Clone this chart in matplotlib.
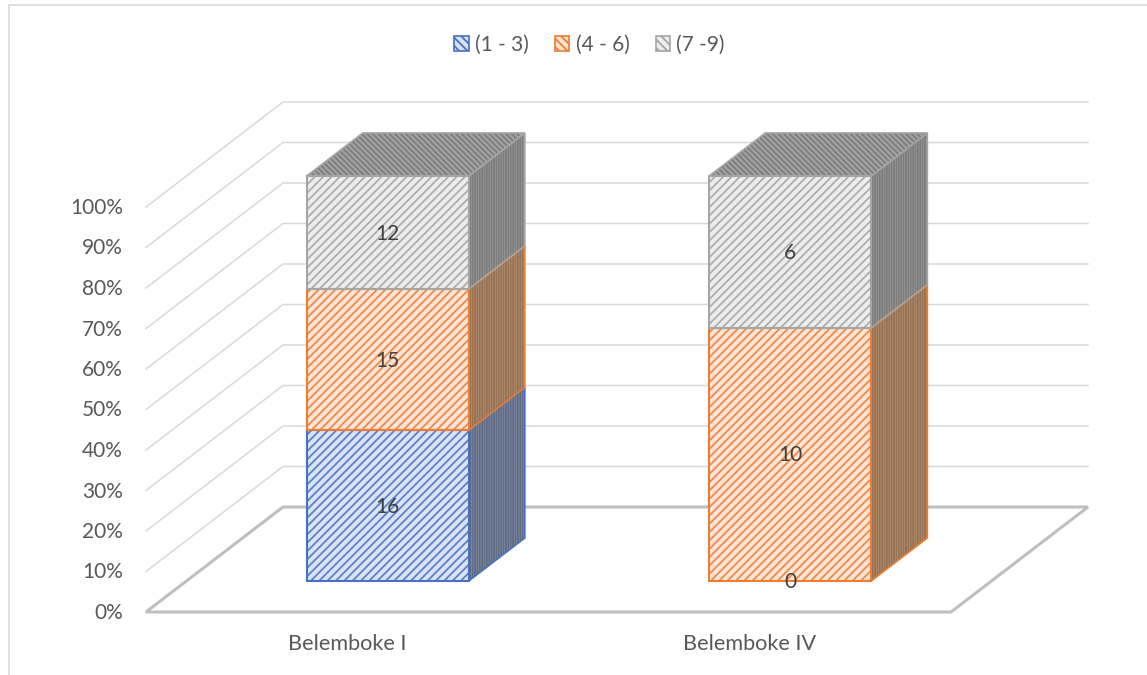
import matplotlib
matplotlib.use('Agg')
import matplotlib.pyplot as plt
from matplotlib.patches import Polygon, Patch
import numpy as np

categories = ['Belemboke I', 'Belemboke IV']
series_names = ['(1 - 3)', '(4 - 6)', '(7 -9)']
counts = np.array([[16, 15, 12],
                   [0, 10, 6]])
pct_ticks = [0, 10, 20, 30, 40, 50, 60, 70, 80, 90, 100]

line_colors = ['#4472C4', '#ED7D31', '#A5A5A5']
face_colors = ['#DAE3F3', '#FBE5D6', '#EDEDED']
front_hatch = ['#5B80CA', '#EF8A48', '#AEAEAE']
side_faces = ['#8F99AD', '#BC9E85', '#A4A4A4']
side_hatch = ['#5F6B85', '#96704F', '#7C7C7C']

plt.rcParams['font.family'] = ['Lato', 'DejaVu Sans']
plt.rcParams['hatch.linewidth'] = 1.3

fig = plt.figure(figsize=(11.47, 6.75), dpi=100)
ax = fig.add_axes([0, 0, 1, 1])
ax.axis('off')

# one category step is 402.5 px, one percent is 4.05 px
x_step = 402.5
y_step = 4.05
ax.set_xlim(-0.5 - 146 / x_step, -0.5 + (1147 - 146) / x_step)
ax.set_ylim(-(675 - 612) / y_step, 612 / y_step)

floor_dx = 137 / x_step
floor_dy = 105 / y_step
bar_half = 81 / x_step
depth_front = 0.295
depth_back = 0.705


def sheared(x, pct, depth):
    return (x + depth * floor_dx, pct + depth * floor_dy)


# chart frame, only top and left show
ax.plot([0.0075, 0.0075, 1.0], [0.0, 0.9925, 0.9925], transform=ax.transAxes,
        color='#D9D9D9', linewidth=1.2, zorder=0)

# walls
for p in pct_ticks[1:]:
    pts = [sheared(-0.5, p, 0), sheared(-0.5, p, 1), sheared(1.5, p, 1)]
    ax.plot(*zip(*pts), color='#D9D9D9', linewidth=1.1, zorder=1)

# floor
floor = [sheared(-0.5, 0, 0), sheared(1.5, 0, 0), sheared(1.5, 0, 1), sheared(-0.5, 0, 1)]
ax.add_patch(Polygon(floor, closed=True, fill=False, edgecolor='#BFBFBF', linewidth=2.2, zorder=2))

# stacked boxes
shares = counts / counts.sum(axis=1, keepdims=True) * 100
for i in range(len(categories)):
    left = i - bar_half
    right = i + bar_half
    bottom = 0
    for s in range(len(series_names)):
        top = bottom + shares[i][s]
        if shares[i][s] > 0:
            f0 = sheared(left, bottom, depth_front)
            f1 = sheared(right, bottom, depth_front)
            f2 = sheared(right, top, depth_front)
            f3 = sheared(left, top, depth_front)
            b1 = sheared(right, bottom, depth_back)
            b2 = sheared(right, top, depth_back)
            ax.add_patch(Polygon([f1, b1, b2, f2], closed=True, facecolor=side_faces[s],
                                 edgecolor=side_hatch[s], hatch='|' * 7, linewidth=0, zorder=3))
            ax.add_patch(Polygon([f1, b1, b2, f2], closed=True, fill=False,
                                 edgecolor=line_colors[s], linewidth=1.2, zorder=3.1))
            ax.add_patch(Polygon([f0, f1, f2, f3], closed=True, facecolor=face_colors[s],
                                 edgecolor=front_hatch[s], hatch='/' * 4, linewidth=0, zorder=4))
            ax.add_patch(Polygon([f0, f1, f2, f3], closed=True, fill=False,
                                 edgecolor=line_colors[s], linewidth=1.5, zorder=4.1))
        cx, cy = sheared(i, (bottom + top) / 2, depth_front)
        ax.annotate(str(counts[i][s]), xy=(cx, cy), xytext=(0, -1), textcoords='offset pixels',
                    ha='center', va='center', fontsize=15, color='#404040', zorder=6)
        bottom = top
    # lid of the box
    lid = [sheared(left, 100, depth_front), sheared(right, 100, depth_front),
           sheared(right, 100, depth_back), sheared(left, 100, depth_back)]
    ax.add_patch(Polygon(lid, closed=True, facecolor='#A4A4A4', edgecolor='#7C7C7C',
                         hatch='\\' * 6, linewidth=0, zorder=3.5))
    ax.add_patch(Polygon(lid, closed=True, fill=False, edgecolor='#A5A5A5',
                         linewidth=1.2, zorder=3.6))

# axis labels
for p in pct_ticks:
    ax.annotate(f'{p}%', xy=(-0.5, p), xytext=(-23, -1), textcoords='offset pixels',
                ha='right', va='center', fontsize=15, color='#595959')
for i, name in enumerate(categories):
    ax.annotate(name, xy=(i, 0), xytext=(0, -32), textcoords='offset pixels',
                ha='center', va='center', fontsize=15.6, color='#595959')

handles = [Patch(facecolor=face_colors[s], edgecolor=line_colors[s], hatch='\\' * 4, linewidth=1.2)
           for s in range(3)]
ax.legend(handles, series_names, loc='center', bbox_to_anchor=(0.514, 0.934), ncol=3, frameon=False,
          fontsize=15, labelcolor='#595959', handlelength=0.7, handleheight=0.7,
          handletextpad=0.3, columnspacing=1.25)

fig.savefig('out.png', dpi=100)
